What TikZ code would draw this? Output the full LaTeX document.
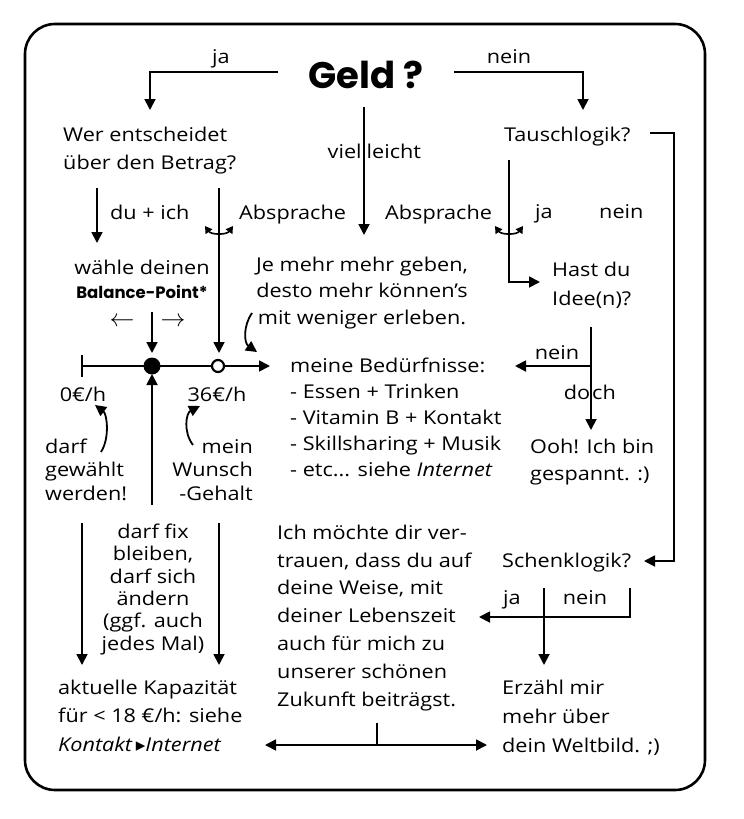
\documentclass[tikz,border=0pt]{standalone}
\usepackage{fontspec}
\setmainfont{Open Sans}[FakeStretch=1.14]
\newfontfamily\popfont{Poppins}
\newfontfamily\symfont{DejaVu Sans}
\usetikzlibrary{arrows.meta}
\begin{document}
\begin{tikzpicture}[x=1pt,y=-1pt,
  >={Triangle[length=11pt,width=11pt]},
  txt/.style={inner sep=0pt,font=\fontsize{19}{26}\selectfont},
  conn/.style={line width=1.8pt},
  small/.style={line width=1.6pt,{Triangle[length=7pt,width=8pt]}-{Triangle[length=7pt,width=8pt]}},
]
\useasboundingbox (0,0) rectangle (744,819);
\draw[line width=2.6pt,rounded corners=30pt] (25,24) rectangle (705,790);

% --- texts (multi-line nodes: base = baseline of last line) ---
\node[inner sep=0pt,font=\popfont\bfseries\fontsize{37}{40}\selectfont,anchor=base] (geld) at (366,88) {Geld ?};
\node[txt,anchor=base] (lja) at (221,63) {ja};
\node[txt,anchor=base] (lnein) at (509,63) {nein};
\node[txt,anchor=base west,align=left,font=\fontsize{19}{28}\selectfont] (wer) at (63,169) {Wer entscheidet\\über den Betrag?};
\node[txt,anchor=base west] (taus) at (504,141) {Tauschlogik?};
\node[txt,anchor=base west] (viel) at (364,158) {\llap{viel\hspace{2.5pt}}\hspace{2.5pt}leicht};
\node[txt,anchor=base west] (duich) at (110,219) {du + ich};
\node[txt,anchor=base west] (abs1) at (239,219) {Absprache};
\node[txt,anchor=base west] (abs2) at (385,219) {Absprache};
\node[txt,anchor=base west] (tja) at (535,218) {ja};
\node[txt,anchor=base west] (tnein) at (599,218) {nein};
\node[txt,anchor=base] (waehle) at (142,274) {wähle deinen};
\node[inner sep=0pt,anchor=base,font=\popfont\bfseries\fontsize{16.5}{20}\selectfont] (bp) at (142,298) {Balance-Point*};
\node[inner sep=0pt,anchor=center,font=\fontsize{25}{26}\selectfont] (larr) at (122,322) {$\leftarrow$};
\node[inner sep=0pt,anchor=center,font=\fontsize{25}{26}\selectfont] (rarr) at (173,322) {$\rightarrow$};
\node[txt,anchor=base,align=center,font=\fontsize{19}{26.5}\selectfont] (jemehr) at (362,324) {Je mehr mehr geben,\\desto mehr können's\\mit weniger erleben.};
\node[txt,anchor=base west,align=left,font=\fontsize{19}{29}\selectfont] (hast) at (552,305) {Hast du\\Idee(n)?};
\node[txt,anchor=base west,align=left] (beduerf) at (290,476) {meine Bedürfnisse:\\- Essen + Trinken\\- Vitamin B + Kontakt\\- Skillsharing + Musik\\- etc... siehe \textit{Internet}};
\node[txt,anchor=base] (inein) at (557,359) {nein};
\node[txt,anchor=base west] (doch) at (591,399) {\llap{do\hspace{1pt}}\hspace{1pt}ch};
\node[txt,anchor=base west,align=left,font=\fontsize{19}{27}\selectfont] (ooh) at (530,480) {Ooh! Ich bin\\gespannt. :)};
\node[txt,anchor=base] (null) at (83,401) {0€/h};
\node[txt,anchor=base] (sechs) at (217,401) {36€/h};
\node[txt,anchor=base west,align=left,font=\fontsize{19}{23.5}\selectfont] (darf) at (45,500) {darf\\gewählt\\werden!};
\node[txt,anchor=base east,align=right,font=\fontsize{19}{23.5}\selectfont] (mein) at (253,500) {mein\\Wunsch\\-Gehalt};
\node[txt,anchor=base,align=center,font=\fontsize{19}{22.3}\selectfont] (fix) at (153,650) {darf fix\\bleiben,\\darf sich\\ändern\\(ggf. auch\\jedes Mal)};
\node[txt,anchor=base west,align=left,font=\fontsize{19}{28.5}\selectfont] (kap) at (58,751) {aktuelle Kapazität\\für < 18 €/h: siehe\\\textit{Kontakt}\,{\symfont ▸}\textit{Internet}};
\node[txt,anchor=base west,align=left,font=\fontsize{19}{27.8}\selectfont] (ich) at (277,706) {Ich möchte dir ver-\\trauen, dass du auf\\deine Weise, mit\\deiner Lebenszeit\\auch für mich zu\\unserer schönen\\Zukunft beiträgst.};
\node[txt,anchor=base west] (schenk) at (502,567) {Schenklogik?};
\node[txt,anchor=base] (sja) at (512,604) {ja};
\node[txt,anchor=base] (snein) at (585,604) {nein};
\node[txt,anchor=base west,align=left,font=\fontsize{19}{28.7}\selectfont] (erz) at (502,752) {Erzähl mir\\mehr über\\dein Weltbild. ;)};

% --- coordinates ---
\coordinate (jaS) at (278,72);   \coordinate (jaE) at (150,110);
\coordinate (neinS) at (454,72); \coordinate (neinE) at (583,110);
\coordinate (vS) at (364,107);   \coordinate (vE) at (364,235);
\coordinate (tR) at (650,133);   \coordinate (tC) at (674,561); \coordinate (sE) at (644,561);
\coordinate (duS) at (97,188);   \coordinate (duE) at (97,243);
\coordinate (abS) at (219,188);  \coordinate (abE) at (219,353);
\coordinate (a1l) at (205,226);  \coordinate (a1r) at (233,226);
\coordinate (a2l) at (495,226);  \coordinate (a2r) at (523,226);
\coordinate (tjS) at (509,160);  \coordinate (tjC) at (509,282); \coordinate (tjE) at (540,282);
\coordinate (jmS) at (252,313);  \coordinate (jmE) at (257,352);
\coordinate (bpS) at (152,312);  \coordinate (bpE) at (152,353);
\coordinate (nl0) at (82,366);   \coordinate (nlE) at (270,366);
\coordinate (tickT) at (82,355); \coordinate (tickB) at (82,377);
\coordinate (bpt) at (152,366);  \coordinate (wpt) at (218,366);
\coordinate (upS) at (152,505);  \coordinate (upE) at (152,374);
\coordinate (dS) at (101,452);   \coordinate (dE) at (95,405);
\coordinate (mS) at (193,445);   \coordinate (mE) at (200,406);
\coordinate (iS) at (591,327);   \coordinate (iE) at (591,430);
\coordinate (iB) at (591,366);   \coordinate (iN) at (515,366);
\coordinate (b1S) at (82,523);   \coordinate (b1E) at (82,665);
\coordinate (b2S) at (219,523);  \coordinate (b2E) at (219,665);
\coordinate (hL) at (265,745);   \coordinate (hR) at (487,745);
\coordinate (hT) at (377,723);   \coordinate (hM) at (377,745);
\coordinate (sjS) at (544,588);  \coordinate (sjE) at (544,665);
\coordinate (snS) at (630,588);  \coordinate (snC) at (630,617); \coordinate (snE) at (479,617);

% --- connectors ---
\draw[conn,->] (jaS) -| (jaE);
\draw[conn,->] (neinS) -| (neinE);
\draw[conn,->] (vS) -- (vE);
\draw[conn,->] (tR) -| (tC) -- (sE);
\draw[conn,->] (duS) -- (duE);
\draw[conn,->] (abS) -- (abE);
\draw[small] (a1l) to[bend right=55] (a1r);
\draw[small] (a2l) to[bend right=55] (a2r);
\draw[conn,->] (tjS) |- (tjE);
\draw[conn,->] (jmS) .. controls (243,326) and (244,343) .. (jmE);
\draw[conn,->] (bpS) -- (bpE);
\draw[conn,->] (nl0) -- (nlE);
\draw[conn] (tickT) -- (tickB);
\fill (bpt) circle (8.5);
\draw[line width=2.2pt,fill=white] (wpt) circle (6);
\draw[conn,->] (upS) -- (upE);
\draw[conn,->] (dS) .. controls (110,438) and (107,414) .. (dE);
\draw[conn,->] (mS) .. controls (183,432) and (186,413) .. (mE);
\draw[conn,->] (iS) -- (iE);
\draw[conn,->] (iB) -- (iN);
\draw[conn,->] (b1S) -- (b1E);
\draw[conn,->] (b2S) -- (b2E);
\draw[conn,<->] (hL) -- (hR);
\draw[conn] (hT) -- (hM);
\draw[conn,->] (sjS) -- (sjE);
\draw[conn,->] (snS) -- (snC) -- (snE);
\end{tikzpicture}
\end{document}
